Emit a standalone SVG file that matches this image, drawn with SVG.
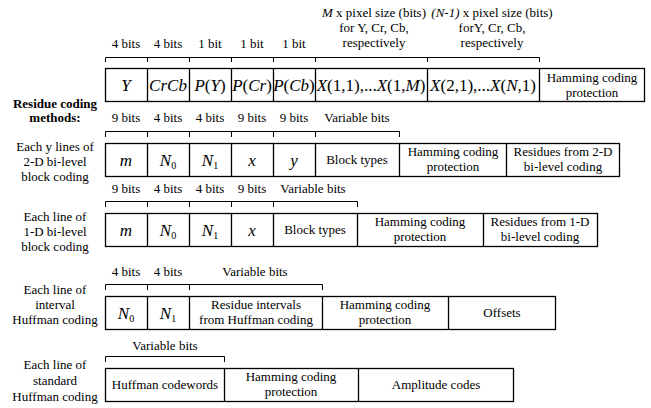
<svg xmlns="http://www.w3.org/2000/svg" width="651" height="408" viewBox="0 0 651 408">
<style>
.l{font-size:13px;text-anchor:middle;}
.c{font-size:13px;text-anchor:middle;}
.m{font-size:17px;text-anchor:middle;}
.i{font-style:italic;}
.b{font-size:13px;font-weight:bold;text-anchor:middle;}
.box{fill:#fff;stroke:#000;stroke-width:1.3;}
.dv{stroke:#000;stroke-width:1.3;}
.br{fill:none;stroke:#000;stroke-width:1;}
.sub{font-size:10px;}
</style>
<rect width="651" height="408" fill="#fff"/>
<g font-family="Liberation Serif, serif" fill="#000">
<g id="legend">
<text class="b" x="55" y="108">Residue coding</text>
<text class="b" x="55" y="122">methods:</text>
</g>

<g id="connectors">
<path class="br" d="M105.5,62V57.5H539.5V62M147.5,57.5V62M189.5,57.5V62M231.5,57.5V62M273.5,57.5V62M315.5,57.5V62M427.5,57.5V62"/>
<path class="br" d="M105.5,137V131.5H399.5V137M147.5,131.5V137M189.5,131.5V137M231.5,131.5V137M273.5,131.5V137M315.5,131.5V137"/>
<path class="br" d="M105.5,207V201.5H357.5V207M147.5,201.5V207M189.5,201.5V207M231.5,201.5V207M273.5,201.5V207"/>
<path class="br" d="M105.5,290V284.5H322.5V290M147.5,284.5V290M189.5,284.5V290"/>
<path class="br" d="M105.5,362V356.5H224.5V362"/>
</g>

<g id="row1">
<text class="l" x="374" y="17"><tspan class="i">M</tspan> x pixel size (bits)</text>
<text class="l" x="374" y="32">for Y, Cr, Cb,</text>
<text class="l" x="374" y="47">respectively</text>
<text class="l" x="492" y="17"><tspan class="i">(N-1)</tspan> x pixel size (bits)</text>
<text class="l" x="492" y="32">forY, Cr, Cb,</text>
<text class="l" x="492" y="47">respectively</text>
<text class="l" x="126" y="48">4 bits</text>
<text class="l" x="168" y="48">4 bits</text>
<text class="l" x="210" y="48">1 bit</text>
<text class="l" x="252" y="48">1 bit</text>
<text class="l" x="294" y="48">1 bit</text>
<rect class="box" x="105.5" y="68.5" width="539" height="33"/>
<path class="dv" d="M147.5,68.5V101.5M189.5,68.5V101.5M231.5,68.5V101.5M273.5,68.5V101.5M315.5,68.5V101.5M427.5,68.5V101.5M539.5,68.5V101.5"/>
<text class="m" x="126" y="91"><tspan class="i">Y</tspan></text>
<text class="m" x="168" y="91"><tspan class="i">CrCb</tspan></text>
<text class="m" x="210" y="91"><tspan class="i">P</tspan>(<tspan class="i">Y</tspan>)</text>
<text class="m" x="252" y="91"><tspan class="i">P</tspan>(<tspan class="i">Cr</tspan>)</text>
<text class="m" x="294" y="91"><tspan class="i">P</tspan>(<tspan class="i">Cb</tspan>)</text>
<text class="m" x="371" y="91"><tspan class="i">X</tspan>(1,1),...<tspan class="i">X</tspan>(1,<tspan class="i">M</tspan>)</text>
<text class="m" x="483" y="91"><tspan class="i">X</tspan>(2,1),...<tspan class="i">X</tspan>(<tspan class="i">N</tspan>,1)</text>
<text class="c" x="592" y="82">Hamming coding</text>
<text class="c" x="592" y="97">protection</text>
</g>

<g id="row2">
<text class="l" x="55" y="151">Each y lines of</text>
<text class="l" x="55" y="166">2-D bi-level</text>
<text class="l" x="55" y="181">block coding</text>
<text class="l" x="126" y="122">9 bits</text>
<text class="l" x="168" y="122">4 bits</text>
<text class="l" x="210" y="122">4 bits</text>
<text class="l" x="252" y="122">9 bits</text>
<text class="l" x="294" y="122">9 bits</text>
<text class="l" x="357" y="122">Variable bits</text>
<rect class="box" x="105.5" y="143.5" width="514" height="33"/>
<path class="dv" d="M147.5,143.5V176.5M189.5,143.5V176.5M231.5,143.5V176.5M273.5,143.5V176.5M315.5,143.5V176.5M399.5,143.5V176.5M506.5,143.5V176.5"/>
<text class="m" x="126" y="166"><tspan class="i">m</tspan></text>
<text class="m" x="168" y="166"><tspan class="i">N</tspan><tspan class="sub" dy="3">0</tspan></text>
<text class="m" x="210" y="166"><tspan class="i">N</tspan><tspan class="sub" dy="3">1</tspan></text>
<text class="m" x="252" y="166"><tspan class="i">x</tspan></text>
<text class="m" x="294" y="166"><tspan class="i">y</tspan></text>
<text class="c" x="357" y="164">Block types</text>
<text class="c" x="453" y="156">Hamming coding</text>
<text class="c" x="453" y="171">protection</text>
<text class="c" x="563" y="156">Residues from 2-D</text>
<text class="c" x="563" y="171">bi-level coding</text>
</g>

<g id="row3">
<text class="l" x="55" y="221">Each line of</text>
<text class="l" x="55" y="236">1-D bi-level</text>
<text class="l" x="55" y="251">block coding</text>
<text class="l" x="126" y="193">9 bits</text>
<text class="l" x="168" y="193">4 bits</text>
<text class="l" x="210" y="193">4 bits</text>
<text class="l" x="252" y="193">9 bits</text>
<text class="l" x="313" y="193">Variable bits</text>
<rect class="box" x="105.5" y="213.5" width="492" height="33"/>
<path class="dv" d="M147.5,213.5V246.5M189.5,213.5V246.5M231.5,213.5V246.5M273.5,213.5V246.5M357.5,213.5V246.5M483.5,213.5V246.5"/>
<text class="m" x="126" y="236"><tspan class="i">m</tspan></text>
<text class="m" x="168" y="236"><tspan class="i">N</tspan><tspan class="sub" dy="3">0</tspan></text>
<text class="m" x="210" y="236"><tspan class="i">N</tspan><tspan class="sub" dy="3">1</tspan></text>
<text class="m" x="252" y="236"><tspan class="i">x</tspan></text>
<text class="c" x="315" y="234">Block types</text>
<text class="c" x="420" y="226">Hamming coding</text>
<text class="c" x="420" y="241">protection</text>
<text class="c" x="540" y="226">Residues from 1-D</text>
<text class="c" x="540" y="241">bi-level coding</text>
</g>

<g id="row4">
<text class="l" x="55" y="294">Each line of</text>
<text class="l" x="55" y="309">interval</text>
<text class="l" x="55" y="324">Huffman coding</text>
<text class="l" x="126" y="276">4 bits</text>
<text class="l" x="168" y="276">4 bits</text>
<text class="l" x="255" y="276">Variable bits</text>
<rect class="box" x="105.5" y="296.5" width="450" height="33"/>
<path class="dv" d="M147.5,296.5V329.5M189.5,296.5V329.5M322.5,296.5V329.5M448.5,296.5V329.5"/>
<text class="m" x="126" y="319"><tspan class="i">N</tspan><tspan class="sub" dy="3">0</tspan></text>
<text class="m" x="168" y="319"><tspan class="i">N</tspan><tspan class="sub" dy="3">1</tspan></text>
<text class="c" x="256" y="309">Residue intervals</text>
<text class="c" x="256" y="324">from Huffman coding</text>
<text class="c" x="385" y="309">Hamming coding</text>
<text class="c" x="385" y="324">protection</text>
<text class="c" x="502" y="317">Offsets</text>
</g>

<g id="row5">
<text class="l" x="55" y="369">Each line of</text>
<text class="l" x="55" y="385">standard</text>
<text class="l" x="55" y="401">Huffman coding</text>
<text class="l" x="165" y="350">Variable bits</text>
<rect class="box" x="105.5" y="368.5" width="408" height="33"/>
<path class="dv" d="M224.5,368.5V401.5M358.5,368.5V401.5"/>
<text class="c" x="165" y="389">Huffman codewords</text>
<text class="c" x="291" y="381">Hamming coding</text>
<text class="c" x="291" y="396">protection</text>
<text class="c" x="436" y="389">Amplitude codes</text>
</g>
</g>
</svg>
